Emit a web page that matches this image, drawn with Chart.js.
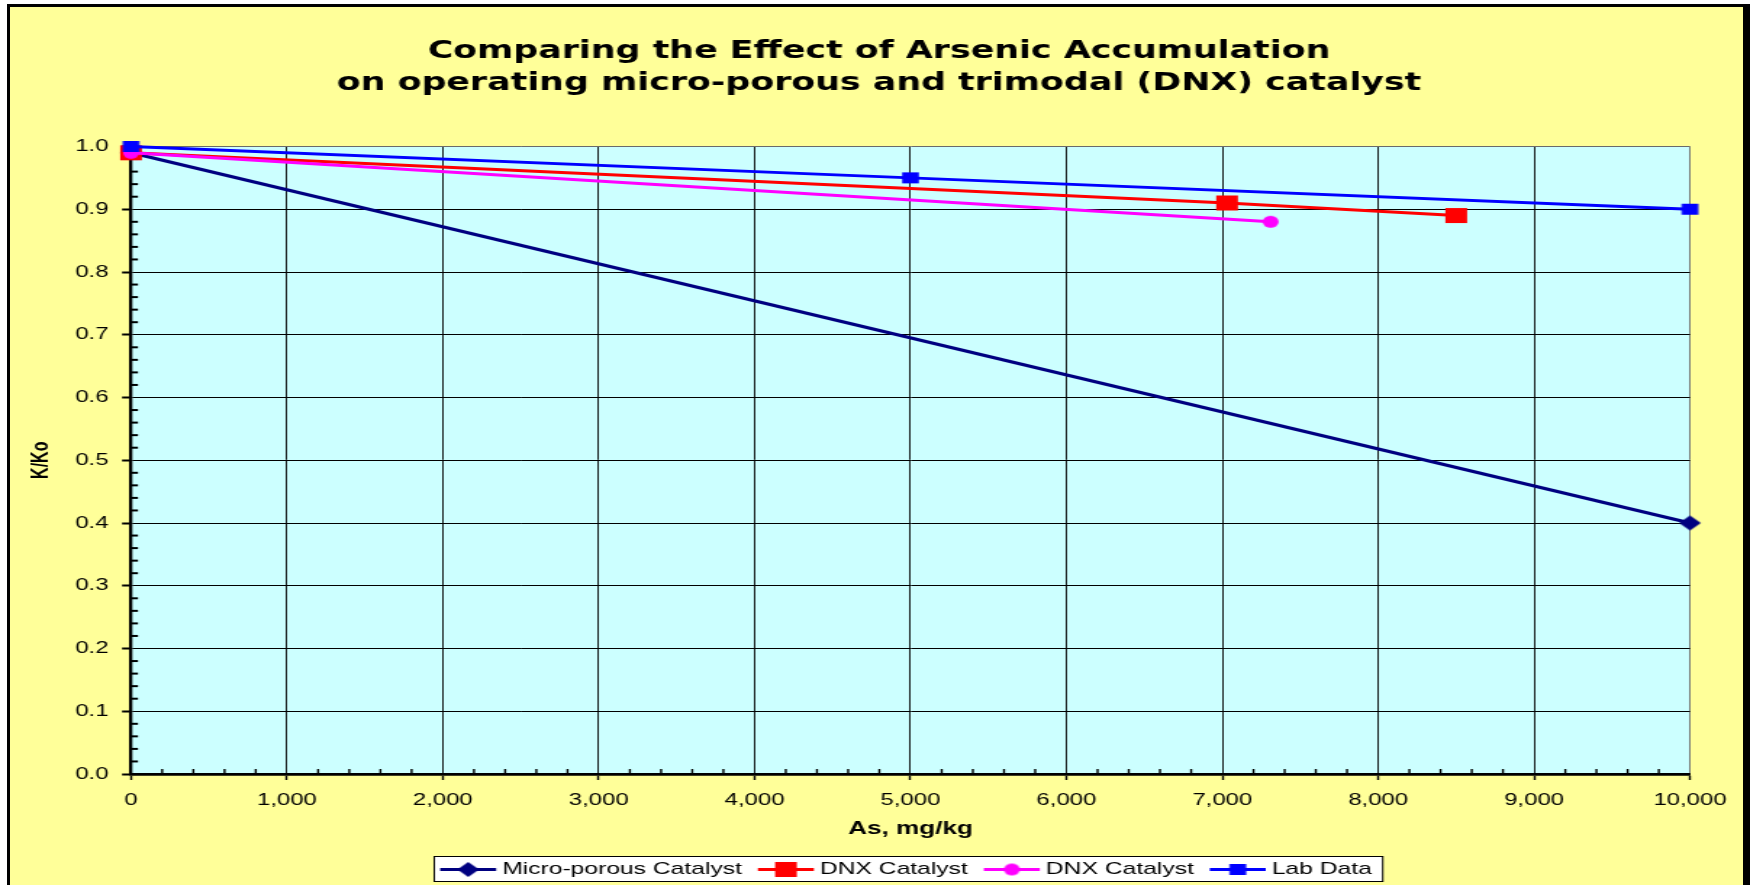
<!DOCTYPE html>
<html>
<head>
<meta charset="utf-8">
<script src="https://cdn.jsdelivr.net/npm/chart.js@4.4.1/dist/chart.umd.min.js"></script>
<style>
  html, body { margin: 0; padding: 0; background: #fff; overflow: hidden; width: 1750px; height: 885px; }
  #frame {
    position: absolute; left: 7px; top: 4px; width: 1743px; height: 900px;
    box-sizing: border-box; background: #FFFF99;
    border-left: 3px solid #000; border-top: 3px solid #000; border-right: 7px solid #000;
  }
  /* the chart is laid out on a narrower canvas and stretched to the full width */
  #wrap { position: absolute; left: 0; top: 0; width: 1207px; height: 885px;
          transform: scaleX(1.449876); transform-origin: 0 0; }
  canvas { display: block; }
</style>
</head>
<body>
<div id="frame"></div>
<div id="wrap"><canvas id="chart" width="1207" height="885"></canvas></div>
<script>
// ---- text ----
const titleLines = [
  'Comparing the Effect of Arsenic Accumulation',
  'on operating micro-porous and trimodal (DNX) catalyst'
];
const xAxisTitle = 'As, mg/kg';
const yAxisTitle = 'K/Ko';
const xTickLabels = ['0', '1,000', '2,000', '3,000', '4,000', '5,000', '6,000', '7,000', '8,000', '9,000', '10,000'];
const yTickLabels = ['0.0', '0.1', '0.2', '0.3', '0.4', '0.5', '0.6', '0.7', '0.8', '0.9', '1.0'];
const seriesNames = ['Micro-porous Catalyst', 'DNX Catalyst', 'DNX Catalyst', 'Lab Data'];

// ---- series values (As in mg/kg, K/Ko) ----
const microX = [0, 10000];
const microY = [0.99, 0.40];
const dnxRedX = [0, 7030, 8500];
const dnxRedY = [0.99, 0.91, 0.89];
const dnxPinkX = [0, 7310];
const dnxPinkY = [0.99, 0.88];
const labX = [0, 5000, 10000];
const labY = [1.00, 0.95, 0.90];

// ---- helpers ----
const SX = 1750 / 1207;               // horizontal stretch of the canvas
const fx = v => v / SX;               // page px -> canvas px (horizontal)
const zip = (xs, ys) => xs.map((x, i) => ({ x: x, y: ys[i] }));

function makeMarker(shape, color, w, h) {
  const c = document.createElement('canvas');
  c.width = Math.ceil(w) + 2;
  c.height = Math.ceil(h) + 2;
  const g = c.getContext('2d');
  const cx = c.width / 2, cy = c.height / 2;
  g.fillStyle = color;
  g.beginPath();
  if (shape === 'rect') {
    g.rect(cx - w / 2, cy - h / 2, w, h);
  } else if (shape === 'diamond') {
    g.moveTo(cx, cy - h / 2);
    g.lineTo(cx + w / 2, cy);
    g.lineTo(cx, cy + h / 2);
    g.lineTo(cx - w / 2, cy);
    g.closePath();
  } else {
    g.ellipse(cx, cy, w / 2, h / 2, 0, 0, Math.PI * 2);
  }
  g.fill();
  return c;
}

const markers = {
  diamond: makeMarker('diamond', '#000080', 15, 15),
  redSquare: makeMarker('rect', '#FF0000', 15, 15),
  pinkCircle: makeMarker('circle', '#FF00FF', 11, 12),
  blueSquare: makeMarker('rect', '#0000FF', 11.5, 11)
};

function series(name, xs, ys, color, marker, order) {
  return {
    label: name, data: zip(xs, ys), showLine: true,
    borderColor: color, backgroundColor: color, borderWidth: 3, tension: 0,
    pointStyle: marker, pointRadius: 6, pointHoverRadius: 6, pointBorderWidth: 0,
    clip: false, order: order
  };
}

// ---- plugins ----
const plotBackground = {
  id: 'plotBackground',
  beforeDraw(chart) {
    const a = chart.chartArea, ctx = chart.ctx;
    ctx.save();
    ctx.fillStyle = '#CCFFFF';
    ctx.fillRect(a.left, a.top, a.right - a.left, a.bottom - a.top);
    ctx.restore();
  }
};

const minorTicks = {
  id: 'minorTicks',
  beforeDatasetsDraw(chart) {
    const ctx = chart.ctx, a = chart.chartArea;
    const xs = chart.scales.x, ys = chart.scales.y;
    ctx.save();
    ctx.strokeStyle = '#000';
    const xStep = 1000 / 5;
    ctx.lineWidth = 1.4;
    for (let v = xs.min + xStep; v < xs.max; v += xStep) {
      if (Math.abs(v % 1000) < 1e-6) continue;
      const px = xs.getPixelForValue(v);
      ctx.beginPath(); ctx.moveTo(px, a.bottom); ctx.lineTo(px, a.bottom - 5); ctx.stroke();
    }
    ctx.lineWidth = 2;
    for (let k = 1; k < 50; k++) {
      if (k % 5 === 0) continue;
      const py = ys.getPixelForValue(k / 50);
      ctx.beginPath(); ctx.moveTo(a.left, py); ctx.lineTo(a.left + fx(7), py); ctx.stroke();
    }
    ctx.restore();
  }
};

const chartTitle = {
  id: 'chartTitle',
  afterDraw(chart) {
    const ctx = chart.ctx;
    ctx.save();
    ctx.fillStyle = '#000';
    ctx.font = 'bold 24px "DejaVu Sans"';
    ctx.textAlign = 'center';
    ctx.textBaseline = 'alphabetic';
    const cx = fx(879);
    ctx.fillText(titleLines[0], cx, 57.5);
    ctx.fillText(titleLines[1], cx, 89.5);
    ctx.restore();
  }
};

const boxLegend = {
  id: 'boxLegend',
  afterDraw(chart) {
    const ctx = chart.ctx, a = chart.chartArea;
    const sets = chart.data.datasets;
    ctx.save();
    ctx.font = '17px "Liberation Sans"';
    const sampleW = fx(56), gapText = fx(6), itemGap = fx(16), padL = fx(6), padR = fx(11);
    const widths = sets.map(d => ctx.measureText(d.label).width);
    let total = padL + padR + itemGap * (sets.length - 1);
    widths.forEach(w => { total += sampleW + gapText + w; });
    const boxX = (a.left + a.right) / 2 - fx(2) - total / 2;
    const boxY = 856.5, boxH = 25, midY = 869.5;
    ctx.fillStyle = '#fff';
    ctx.fillRect(boxX, boxY, total, boxH);
    ctx.strokeStyle = '#000';
    ctx.lineWidth = 1;
    ctx.strokeRect(boxX, boxY, total, boxH);
    let x = boxX + padL;
    sets.forEach((d, i) => {
      ctx.strokeStyle = d.borderColor;
      ctx.lineWidth = 3;
      ctx.beginPath(); ctx.moveTo(x, midY); ctx.lineTo(x + sampleW, midY); ctx.stroke();
      const img = d.pointStyle;
      ctx.drawImage(img, x + sampleW / 2 - img.width / 2, midY - img.height / 2);
      ctx.fillStyle = '#000';
      ctx.textAlign = 'left';
      ctx.textBaseline = 'middle';
      ctx.fillText(d.label, x + sampleW + gapText, midY);
      x += sampleW + gapText + widths[i] + itemGap;
    });
    ctx.restore();
  }
};

// ---- chart ----
Chart.defaults.font.family = '"Liberation Sans", Arial, sans-serif';
Chart.defaults.color = '#000';

const edgeGrid = (maxVal, normal) => (c) => (c.tick && Math.abs(c.tick.value - maxVal) < 1e-9) ? '#6a6a6a' : normal;

new Chart(document.getElementById('chart'), {
  type: 'scatter',
  data: {
    datasets: [
      series(seriesNames[0], microX, microY, '#000080', markers.diamond, 3),
      series(seriesNames[1], dnxRedX, dnxRedY, '#FF0000', markers.redSquare, 2),
      series(seriesNames[2], dnxPinkX, dnxPinkY, '#FF00FF', markers.pinkCircle, 1),
      series(seriesNames[3], labX, labY, '#0000FF', markers.blueSquare, 0)
    ]
  },
  options: {
    responsive: false,
    animation: false,
    devicePixelRatio: 1,
    events: [],
    layout: { padding: { left: 0, right: 1207 - fx(1690), top: 146.5, bottom: 40 } },
    plugins: {
      legend: { display: false },
      title: { display: false },
      tooltip: { enabled: false }
    },
    scales: {
      x: {
        type: 'linear', min: 0, max: 10000,
        afterFit(s) { s.height = 71; },
        ticks: {
          stepSize: 1000, padding: 10.9, maxRotation: 0, autoSkip: false,
          callback: (v, i) => xTickLabels[i],
          font: { size: 16.5 }, color: '#000'
        },
        grid: {
          color: edgeGrid(10000, '#000'), lineWidth: 0.9,
          drawTicks: true, tickLength: 6, tickWidth: 1.4, tickColor: '#000'
        },
        border: { display: true, color: '#000', width: 2.7 },
        title: {
          display: true, text: xAxisTitle, color: '#000',
          font: { size: 18, weight: 'bold' }, padding: { top: 0, bottom: 5.2 }
        }
      },
      y: {
        type: 'linear', min: 0, max: 1,
        afterFit(s) { s.width = fx(131); },
        ticks: {
          stepSize: 0.1, padding: 9.3,
          callback: (v, i) => yTickLabels[i],
          font: { size: 16.5 }, color: '#000'
        },
        grid: {
          color: edgeGrid(1, '#000'), lineWidth: 1,
          drawTicks: true, tickLength: fx(9), tickWidth: 2, tickColor: '#000'
        },
        border: { display: true, color: '#000', width: 2.3 },
        title: {
          display: true, text: yAxisTitle, color: '#000',
          font: { size: 16, weight: 'bold' }, padding: { top: 19, bottom: 0 }
        }
      }
    }
  },
  plugins: [plotBackground, minorTicks, chartTitle, boxLegend]
});
</script>
</body>
</html>
